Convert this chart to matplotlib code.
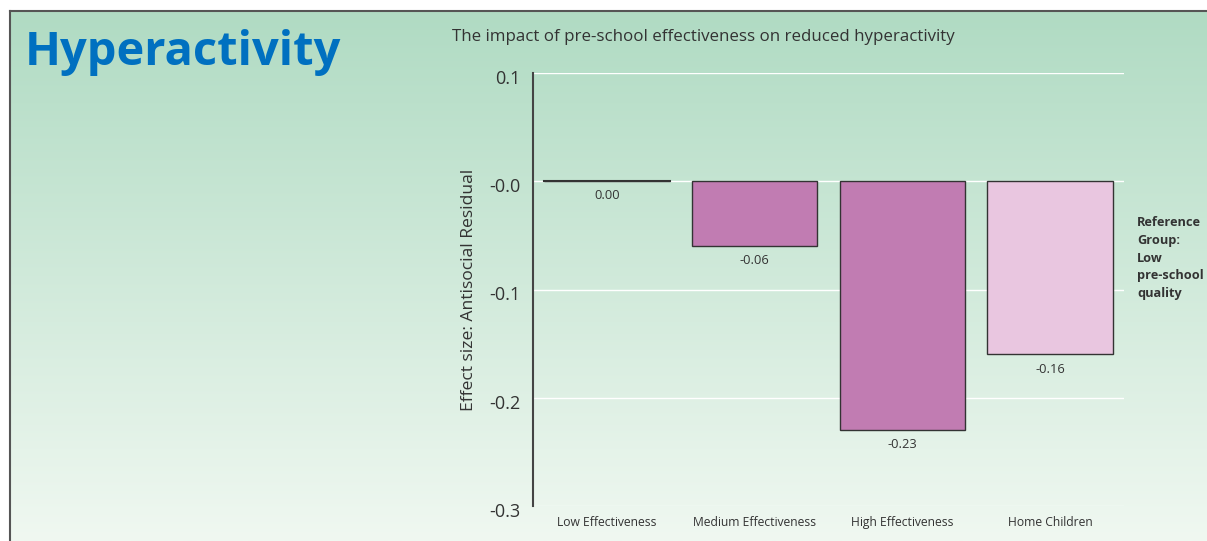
import numpy as np
import matplotlib.pyplot as plt
from matplotlib.transforms import ScaledTranslation

# Data
categories = ["Low Effectiveness", "Medium Effectiveness", "High Effectiveness", "Home Children"]
effects = [0.00, -0.06, -0.23, -0.16]
bar_colors = ["#c17cb2", "#c17cb2", "#c17cb2", "#e9c6e0"]
y_ticks = [0.1, 0.0, -0.1, -0.2, -0.3]
y_tick_labels = ["0.1", "-0.0", "-0.1", "-0.2", "-0.3"]

plt.rcParams['font.family'] = ['Open Sans', 'DejaVu Sans']

W, H = 1207, 541
fig = plt.figure(figsize=(W / 100, H / 100), dpi=100)
fig.patch.set_facecolor("white")

# Background panel with a vertical green gradient
bg = fig.add_axes([10 / W, 0, 1 - 10 / W, 1 - 11 / H])
grad = np.linspace(0, 1, 256).reshape(-1, 1)
top = np.array([0xb0, 0xdb, 0xc3]) / 255
bot = np.array([0xf0, 0xf8, 0xf1]) / 255
img = top + (bot - top) * grad[..., None]
bg.imshow(img, aspect="auto", extent=[0, 1, 0, 1])
bg.set_xlim(0, 1)
bg.set_ylim(0, 1)
bg.axis("off")
fig.add_artist(plt.Line2D([10 / W, 1], [1 - 11 / H, 1 - 11 / H], color="#555555", lw=1.5))
fig.add_artist(plt.Line2D([10 / W, 10 / W], [0, 1 - 11 / H], color="#555555", lw=1.5))

fig.text(25 / W, 1 - 52 / H, "Hyperactivity", fontsize=33.8, fontweight="bold",
         color="#0070c0", va="center", ha="left")
fig.text(452 / W, 1 - 37 / H, "The impact of pre-school effectiveness on reduced hyperactivity",
         fontsize=12.2, color="#333333", va="center", ha="left")

ax = fig.add_axes([533 / W, 1 - 506 / H, (1124 - 533) / W, (506 - 73) / H])
ax.patch.set_alpha(0)
x = np.arange(len(categories))
ax.bar(x, effects, width=0.85, color=bar_colors, edgecolor="#333333", linewidth=1, zorder=3)
ax.plot([-0.425, 0.425], [0, 0], color="#333333", lw=1.5, zorder=4)

for xi, v in zip(x, effects):
    ax.text(xi, v - 0.0135, f"{v:.2f}", ha="center", va="center", fontsize=9.3, color="#333333")

ax.set_xlim(-0.5, 3.5)
ax.set_ylim(-0.3, 0.1)
ax.set_yticks(y_ticks)
ax.set_yticklabels(y_tick_labels, fontsize=13, color="#333333")
ax.set_xticks(x)
ax.set_xticklabels(categories, fontsize=8.7, color="#333333")
ax.tick_params(axis="both", length=0)
ax.tick_params(axis="y", pad=9)
ax.tick_params(axis="x", pad=7)
# nudge y tick labels slightly below their gridlines
shift = ScaledTranslation(0, -4 / 100, fig.dpi_scale_trans)
for tick in ax.yaxis.get_major_ticks():
    tick.label1.set_transform(tick.label1.get_transform() + shift)
ax.grid(axis="y", color="white", lw=1, zorder=1)
for s in ["top", "right", "bottom"]:
    ax.spines[s].set_visible(False)
ax.spines["left"].set_color("#444444")
ax.spines["left"].set_linewidth(1.5)
ax.set_ylabel("Effect size: Antisocial Residual", fontsize=12.6, color="#333333", labelpad=9)

fig.text(1137 / W, 1 - 258 / H, "Reference\nGroup:\nLow\npre-school\nquality",
         fontsize=9.2, fontweight="bold", color="#333333", va="center", ha="left", linespacing=1.45)

fig.savefig("out.png", dpi=100)
